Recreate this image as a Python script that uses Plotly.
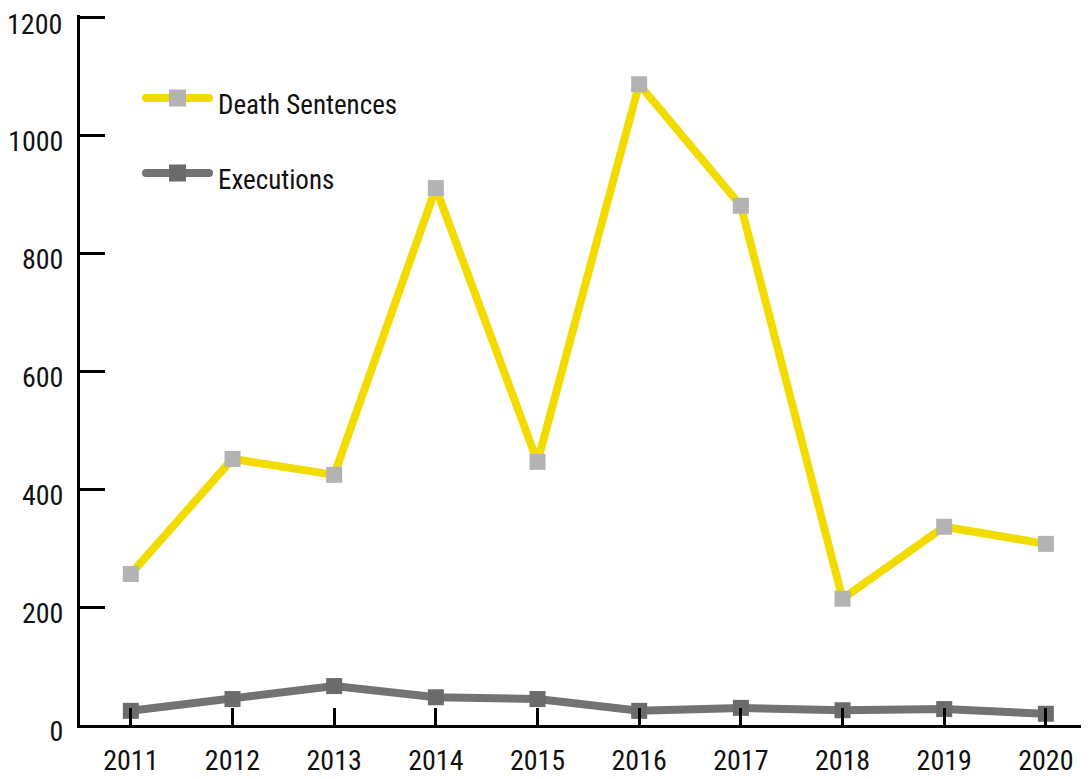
import plotly.graph_objects as go

years = [2011, 2012, 2013, 2014, 2015, 2016, 2017, 2018, 2019, 2020]
death_sentences = [256, 451, 424, 910, 446, 1086, 880, 214, 336, 307]
executions = [24, 44, 66, 47, 44, 24, 29, 25, 27, 19]
y_ticks = [0, 200, 400, 600, 800, 1000, 1200]

FONT = "Roboto Condensed"
YELLOW = "#F2DC00"
LIGHT = "#B3B3B3"
DARK = "#737373"
DARKM = "#6B6B6B"

fig = go.Figure()
fig.add_trace(go.Scatter(x=years, y=death_sentences, mode="lines+markers",
                         line=dict(color=YELLOW, width=8),
                         marker=dict(symbol="square", size=16, color=LIGHT),
                         name="Death Sentences", showlegend=False, cliponaxis=False))
fig.add_trace(go.Scatter(x=years, y=executions, mode="lines+markers",
                         line=dict(color=DARK, width=8),
                         marker=dict(symbol="square", size=16, color=DARKM),
                         name="Executions", showlegend=False, cliponaxis=False))

# page body has an 8px margin; figure sized to fill the rest of the window
OFF = 8
W, H = 1089 - OFF, 779 - OFF
L, R, T, B = 80 - OFF, 0, 15 - OFF, 779 - 725
pw, ph = W - L - R, H - T - B
y_top = ph * 1200 / 708.0  # keep 1200 at the reference position, slightly inside the range

def px(x):  # window pixel -> paper
    return (x - OFF - L) / pw

def py(y):
    return (H - B - (y - OFF)) / ph

legend_items = [("Death Sentences", YELLOW, LIGHT, 98), ("Executions", DARK, DARKM, 173)]
shapes = []
annotations = []
for name, lc, mc, yy in legend_items:
    shapes.append(dict(type="line", xref="paper", yref="paper",
                       x0=px(146), x1=px(209), y0=py(yy), y1=py(yy),
                       line=dict(color=lc, width=8)))
    for cx in (146, 209):
        shapes.append(dict(type="circle", xref="paper", yref="paper",
                           x0=px(cx - 4), x1=px(cx + 4), y0=py(yy - 4), y1=py(yy + 4),
                           fillcolor=lc, line=dict(width=0)))
    shapes.append(dict(type="rect", xref="paper", yref="paper",
                       x0=px(169), x1=px(186), y0=py(yy - 8.5), y1=py(yy + 8.5),
                       fillcolor=mc, line=dict(width=0)))
    annotations.append(dict(xref="paper", yref="paper", x=px(216), y=py(yy + 7),
                            text=name, showarrow=False, xanchor="left", yanchor="middle",
                            font=dict(family=FONT, size=27, color="#111111")))

# top tick label (plotly culls it at the edge), drawn as an annotation at the 1200 tick
top_val = y_ticks[-1]
annotations.append(dict(xref="paper", yref="y", x=px(64), y=top_val, yshift=-7,
                        text=str(top_val), showarrow=False, xanchor="right", yanchor="middle",
                        font=dict(family=FONT, size=28, color="#111111")))
tick_text = [str(v) for v in y_ticks[:-1]] + [""]

fig.update_layout(
    width=W, height=H,
    margin=dict(l=L, r=R, t=T, b=B, autoexpand=False),
    paper_bgcolor="white", plot_bgcolor="white",
    font=dict(family=FONT, size=28, color="#111111"),
    shapes=shapes, annotations=annotations,
    xaxis=dict(range=[2010.5, 2010.5 + pw / 101.67], tickmode="array", tickvals=years,
               ticktext=[str(y) for y in years], showgrid=False, zeroline=False,
               showline=True, linecolor="black", linewidth=3, automargin=False,
               ticks="inside", ticklen=17, tickwidth=3, tickcolor="black", ticklabelstandoff=8),
    yaxis=dict(range=[0, y_top], tickmode="array", tickvals=y_ticks, ticktext=tick_text,
               automargin=False,
               showgrid=False, zeroline=False, showline=True, linecolor="black", linewidth=3,
               ticks="inside", ticklen=25, tickwidth=3, tickcolor="black",
               ticklabelstandoff=8, ticklabelshift=6),
)

fig.write_html("out.html")
